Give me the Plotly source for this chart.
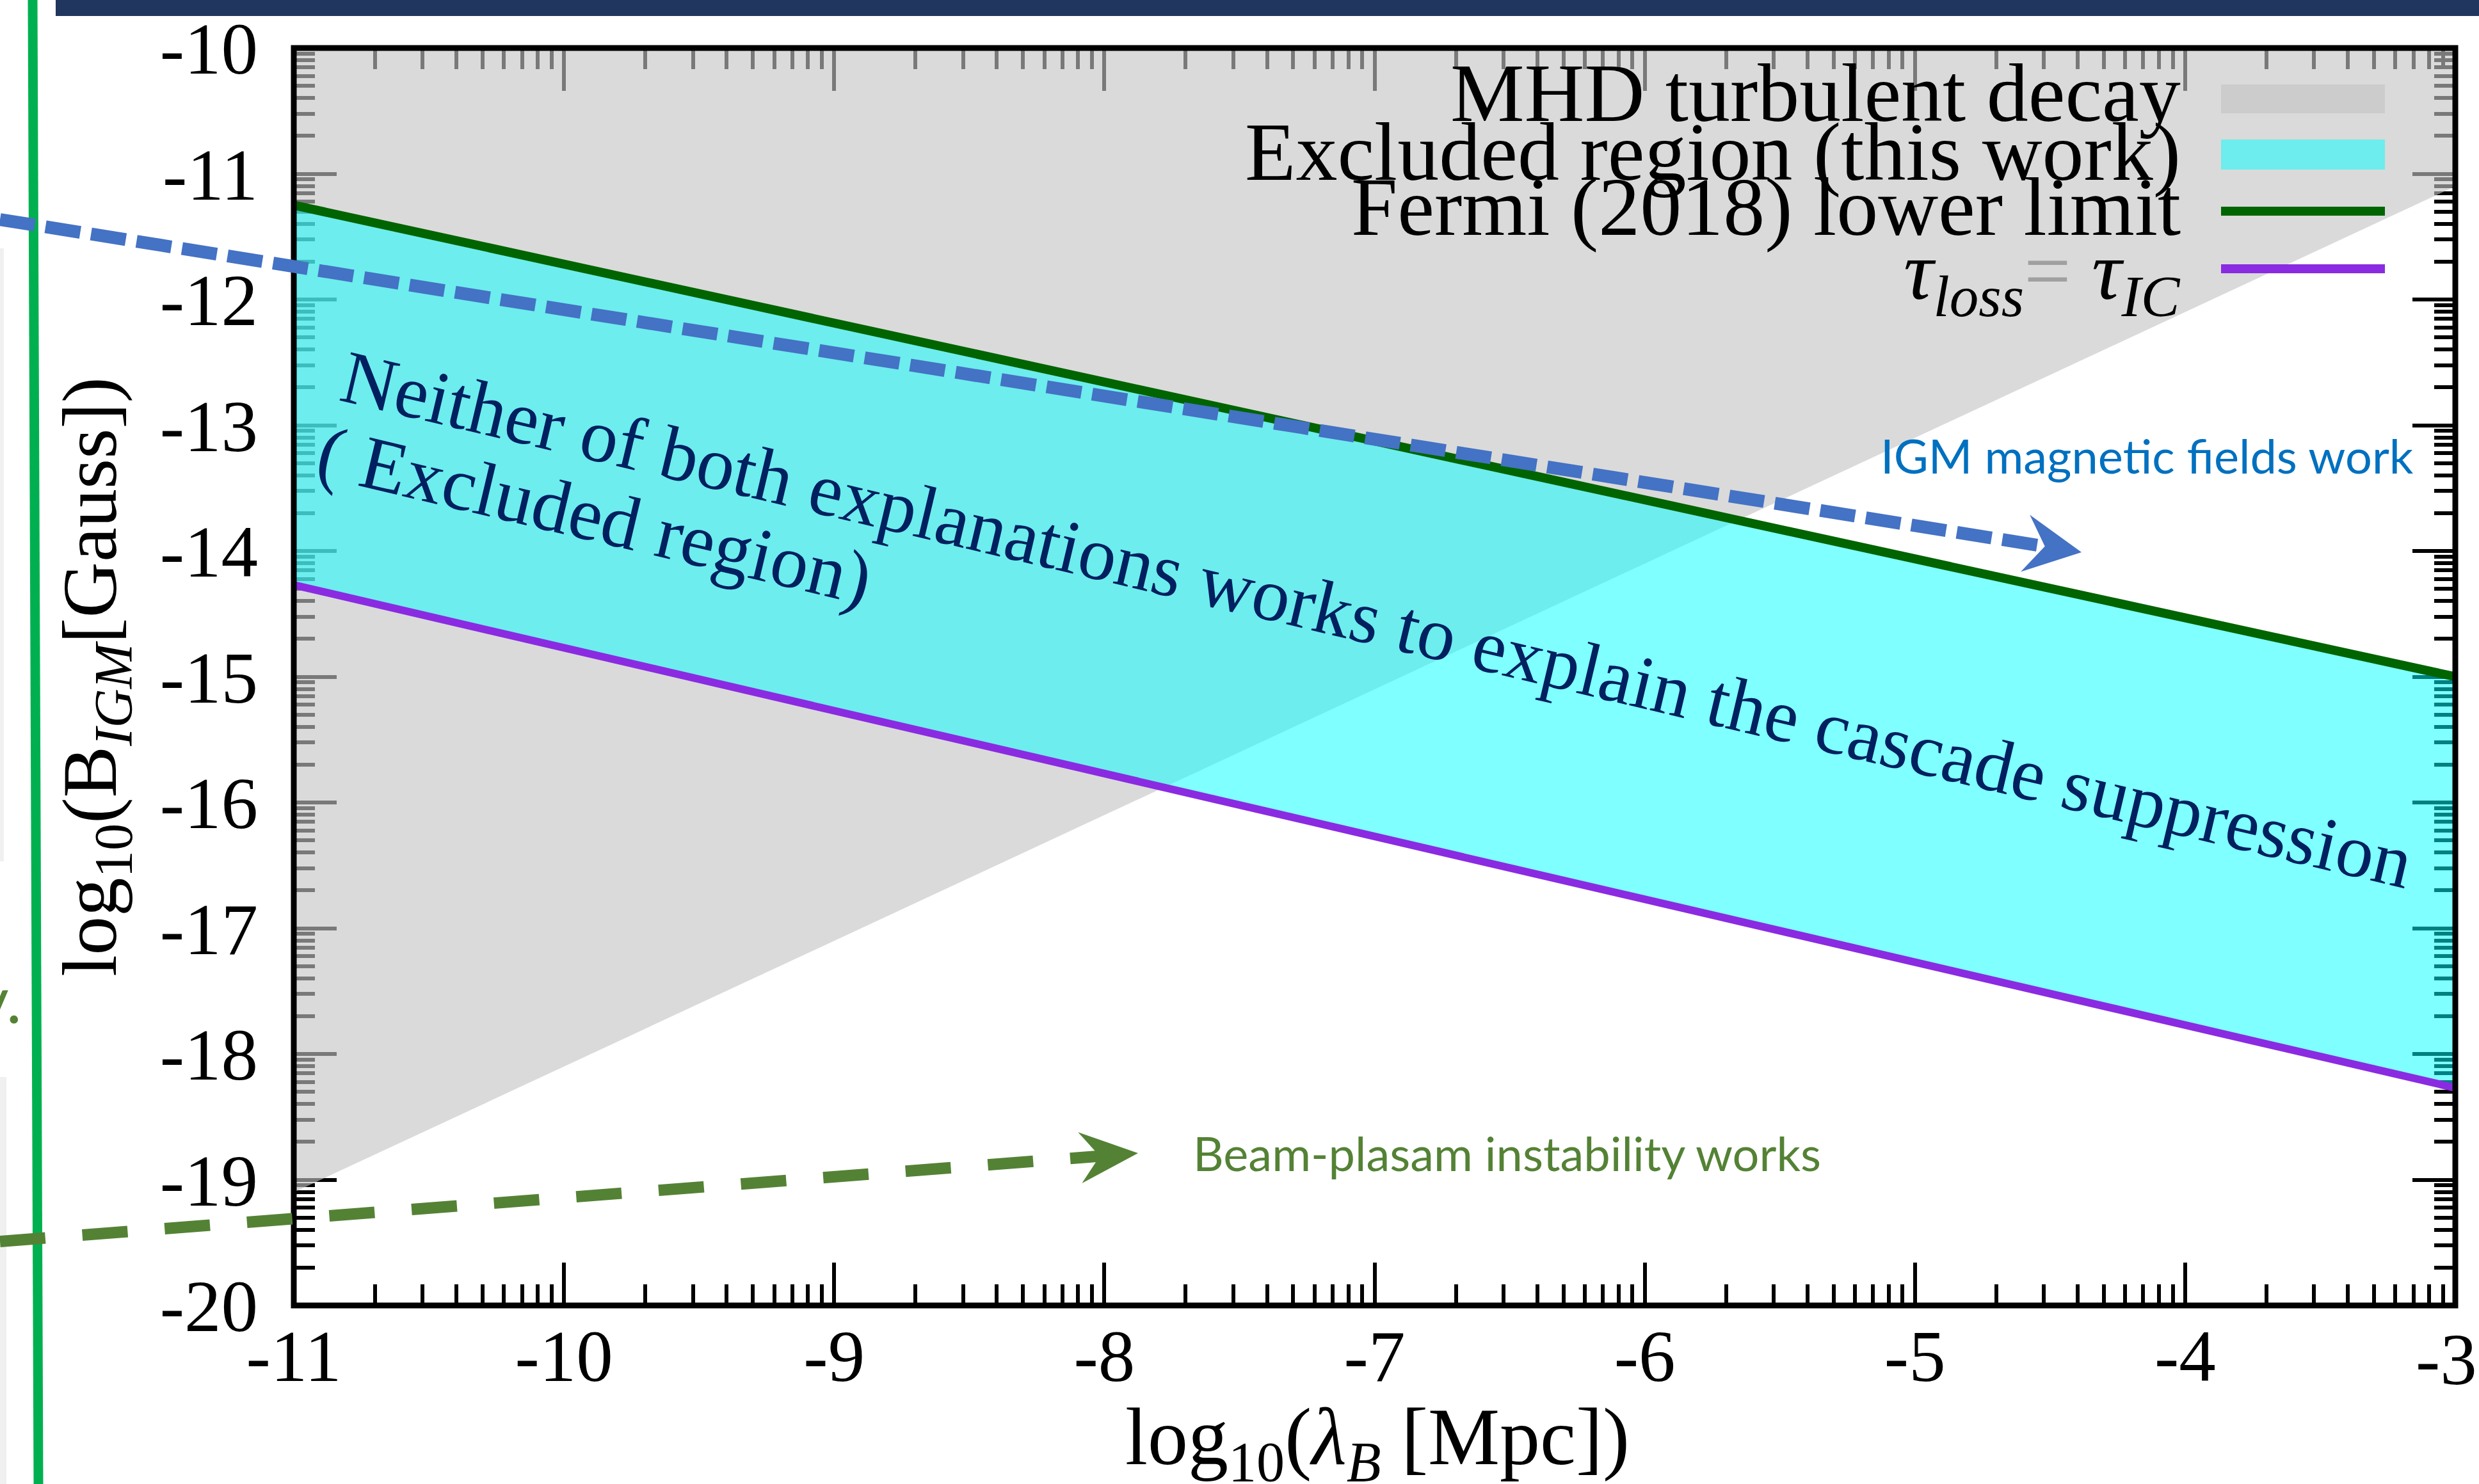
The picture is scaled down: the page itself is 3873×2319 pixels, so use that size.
import numpy as np
import plotly.graph_objects as go

# ---------------- data ----------------
x_ends = [-11, -3]                      # log10(lambda_B / Mpc) at the two ends
fermi_lower = [-11.25, -15.0]           # Fermi (2018) lower limit
tau_equal = [-14.27, -18.27]            # tau_loss = tau_IC
mhd_boundary = [-19.1, -11.1]           # lower edge of MHD turbulent decay region
x_range = [-11, -3]
y_range = [-20, -10]
x_major = list(range(-11, -2))
y_major = list(range(-20, -9))
legend_labels = [
    "MHD turbulent decay",
    "Excluded region (this work)",
    "Fermi (2018) lower limit",
    "<i>τ</i><sub><i>loss</i></sub><span style='color:#a0a0a0'>=</span> <i>τ</i><sub><i>IC</i></sub>",
]
main_text_1 = "Neither of both explanations works to explain the cascade suppression"
main_text_2 = "( Excluded region)"
igm_text = "IGM magnetic fields work"
beam_text = "Beam-plasam instability works"

# ---------------- layout geometry (pixels) ----------------
W, H = 3873, 2319
L, R, T, B = 459, 3836, 75, 2040


def P(X, Y):
    return (X - L) / (R - L), (B - Y) / (B - T)


def minor_vals(majors):
    vals = []
    for m in majors[:-1]:
        for k in range(2, 10):
            vals.append(m + np.log10(k))
    return vals


GRAY = "rgba(195,195,195,0.62)"
CYAN = "rgba(0,255,255,0.5)"
FERMI = "#006400"
PURPLE = "#8A2BE2"

fig = go.Figure()
# MHD region
fig.add_trace(go.Scatter(
    x=x_ends + x_ends[::-1],
    y=mhd_boundary + [y_range[1], y_range[1]],
    fill="toself", fillcolor=GRAY, line=dict(width=0), mode="lines",
    hoverinfo="skip", showlegend=False))
# Excluded region
fig.add_trace(go.Scatter(x=x_ends, y=tau_equal, mode="lines", line=dict(width=0),
                         showlegend=False, hoverinfo="skip"))
fig.add_trace(go.Scatter(x=x_ends, y=fermi_lower, mode="lines", line=dict(width=0),
                         fill="tonexty", fillcolor=CYAN, showlegend=False, hoverinfo="skip"))
# lines
fig.add_trace(go.Scatter(x=x_ends, y=tau_equal, mode="lines",
                         line=dict(color=PURPLE, width=12), showlegend=False))
fig.add_trace(go.Scatter(x=x_ends, y=fermi_lower, mode="lines",
                         line=dict(color=FERMI, width=14), showlegend=False))

TICKSIZE = 115
tickfont = dict(family="Liberation Serif", size=TICKSIZE, color="black")
common_axis = dict(
    showgrid=False, zeroline=False, showline=False,
    ticks="inside", ticklen=67, tickwidth=6, tickcolor="black",
    mirror="allticks", layer="below traces", tickfont=tickfont,
    tickmode="array",
)
# the last x label sits on the page edge; it is drawn as an annotation below
x_ticktext = [str(v) for v in x_major[:-1]] + [""]
fig.update_xaxes(range=x_range, tickvals=x_major, ticktext=x_ticktext,
                 minor=dict(tickmode="array", tickvals=minor_vals(x_major), ticks="inside",
                            ticklen=33, tickwidth=6, tickcolor="black"),
                 ticklabelstandoff=2, **common_axis)
fig.update_yaxes(range=y_range, tickvals=y_major, ticktext=[str(v) for v in y_major],
                 minor=dict(tickmode="array", tickvals=minor_vals(y_major), ticks="inside",
                            ticklen=33, tickwidth=6, tickcolor="black"),
                 ticklabelstandoff=55, **common_axis)

shapes = []
# frame
shapes.append(dict(type="rect", xref="paper", yref="paper", x0=0, y0=0, x1=1, y1=1,
                   line=dict(color="black", width=9), layer="above"))
# slide decorations
x0, y0 = P(87, 0); x1, y1 = P(W, 25)
shapes.append(dict(type="rect", xref="paper", yref="paper", x0=x0, y0=y0, x1=x1, y1=y1,
                   fillcolor="#21365F", line=dict(width=0)))
x0, y0 = P(51, 0); x1, y1 = P(60, H)
shapes.append(dict(type="line", xref="paper", yref="paper", x0=x0, y0=y0, x1=x1, y1=y1,
                   line=dict(color="#00B050", width=15)))
for (a, b, c, d) in [(0, 388, 6, 1346), (0, 1683, 10, H)]:
    x0, y0 = P(a, b); x1, y1 = P(c, d)
    shapes.append(dict(type="rect", xref="paper", yref="paper", x0=x0, y0=y0, x1=x1, y1=y1,
                       fillcolor="#F0F0F0", line=dict(width=0)))


def dashed_arrow(start, tip, color, width, dash, length, hw, notch):
    sx, sy = start
    tx, ty = tip
    dx, dy = tx - sx, ty - sy
    n = np.hypot(dx, dy)
    ux, uy = dx / n, dy / n
    px_, py_ = -uy, ux
    nx_, ny_ = tx - notch * ux, ty - notch * uy
    a0 = P(sx, sy); a1 = P(nx_ + 2 * ux, ny_ + 2 * uy)
    out = [dict(type="line", xref="paper", yref="paper", x0=a0[0], y0=a0[1], x1=a1[0], y1=a1[1],
                line=dict(color=color, width=width, dash=dash), layer="above")]
    pts = [(tx, ty),
           (tx - length * ux + hw * px_, ty - length * uy + hw * py_),
           (nx_, ny_),
           (tx - length * ux - hw * px_, ty - length * uy - hw * py_)]
    path = "M " + " L ".join("%.6f,%.6f" % P(X, Y) for X, Y in pts) + " Z"
    out.append(dict(type="path", xref="paper", yref="paper", path=path,
                    fillcolor=color, line=dict(width=0), layer="above"))
    return out


shapes += dashed_arrow((0, 343), (3252, 863), "#4472C4", 20, "55px,17px", 89, 45, 58)
shapes += dashed_arrow((0, 1940), (1778, 1802), "#548235", 18, "71px,58px", 91, 40, 60)

# legend samples
LX0, LX1 = 3470, 3726
for (ya, yb, col) in [(132, 177, GRAY), (218, 265, CYAN)]:
    x0, y0 = P(LX0, ya); x1, y1 = P(LX1, yb)
    shapes.append(dict(type="rect", xref="paper", yref="paper", x0=x0, y0=y0, x1=x1, y1=y1,
                       fillcolor=col, line=dict(width=0), layer="above"))
for (yc, col, w) in [(330, FERMI, 14), (420, PURPLE, 14)]:
    x0, y0 = P(LX0, yc); x1, y1 = P(LX1, yc)
    shapes.append(dict(type="line", xref="paper", yref="paper", x0=x0, y0=y0, x1=x1, y1=y1,
                       line=dict(color=col, width=w), layer="above"))

annotations = []
for lab, yc in zip(legend_labels, [145, 237, 323, 433]):
    ax_, ay_ = P(3409, yc)
    annotations.append(dict(text=lab, x=ax_, y=ay_, xref="paper", yref="paper",
                            xanchor="right", yanchor="middle", showarrow=False,
                            font=dict(family="Liberation Serif", size=130, color="black")))

for txt, (cx, cy) in [(main_text_1, (2152, 968)), (main_text_2, (929, 805))]:
    ax_, ay_ = P(cx, cy)
    annotations.append(dict(text=txt, x=ax_, y=ay_, xref="paper", yref="paper",
                            xanchor="center", yanchor="middle", showarrow=False,
                            textangle=13.3,
                            font=dict(family="Liberation Serif", size=118, color="#002060")))

for txt, (cx, cy), col in [(igm_text, (3354, 711), "#0070C0"),
                           (beam_text, (2354, 1801), "#548235")]:
    ax_, ay_ = P(cx, cy)
    annotations.append(dict(text=txt, x=ax_, y=ay_, xref="paper", yref="paper",
                            xanchor="center", yanchor="middle", showarrow=False,
                            font=dict(family="Lato", size=74, color=col)))

# last x tick label, at the page edge
ax_, ay_ = P(W - 1, 2124)
annotations.append(dict(text=str(x_major[-1]), x=ax_, y=ay_, xref="paper", yref="paper",
                        xanchor="right", yanchor="middle", showarrow=False,
                        font=tickfont))

# fragment of slide text at far left
ax_, ay_ = P(36, 1560)
annotations.append(dict(text="y.", x=ax_, y=ay_, xref="paper", yref="paper",
                        xanchor="right", yanchor="middle", showarrow=False,
                        font=dict(family="Lato", size=100, color="#548235")))

# axis titles
ax_, ay_ = P((L + R) / 2 + 4, 2254)
annotations.append(dict(text="log<sub>10</sub>(<i>λ</i><sub><i>B</i></sub> [Mpc])", x=ax_, y=ay_,
                        xref="paper", yref="paper", xanchor="center", yanchor="middle",
                        showarrow=False,
                        font=dict(family="Liberation Serif", size=126, color="black")))
ax_, ay_ = P(148, 1058)
annotations.append(dict(text="log<sub>10</sub>(B<sub><i>IGM</i></sub>[Gauss])", x=ax_, y=ay_,
                        xref="paper", yref="paper", xanchor="center", yanchor="middle",
                        showarrow=False, textangle=-90,
                        font=dict(family="Liberation Serif", size=121, color="black")))

fig.update_layout(
    width=W, height=H, autosize=False,
    margin=dict(l=L, r=W - R, t=T, b=H - B, pad=0),
    paper_bgcolor="white", plot_bgcolor="white",
    shapes=shapes, annotations=annotations, showlegend=False,
)

fig.write_html("out.html", config={"displayModeBar": False})
